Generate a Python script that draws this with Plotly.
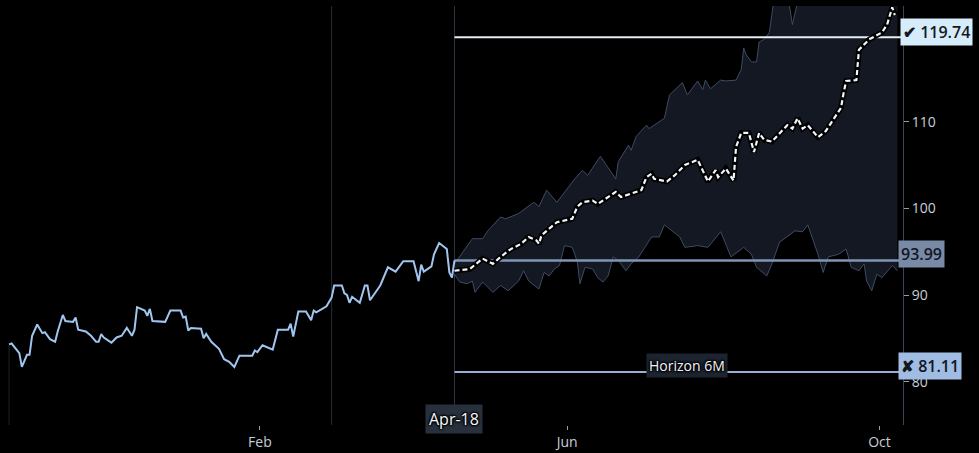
import pandas as pd
import plotly.graph_objects as go

# ---------------- data ----------------
hist_start = "2022-10-26"
hist_days = [0, 1, 4, 5, 7, 8, 9, 11, 13, 14, 16, 18, 19, 21, 22, 25, 26, 27, 30, 32,
             34, 35, 36, 37, 40, 42, 44, 46, 48, 49, 50, 53, 54, 55, 56, 61, 63, 67, 68, 69,
             70, 71, 75, 76, 77, 79, 82, 84, 86, 88, 90, 95, 96, 97, 99, 103, 105, 109, 110, 111,
             113, 116, 118, 119, 120, 124, 126, 127, 130, 131, 132, 133, 134, 137, 139, 140, 141, 145, 148, 151,
             154, 158, 160, 161, 162, 165, 166, 168, 171, 172, 173, 174]
hist_vals = [84.3, 84.4, 83.3, 81.7, 83.1, 83.1, 85.3, 86.6, 85.6, 85.7, 84.9, 84.6, 85.8, 87.7, 87.0, 86.9, 87.4, 86.0, 85.8, 85.3,
             84.6, 84.6, 85.5, 85.1, 84.5, 85.1, 85.3, 86.2, 85.3, 86.0, 88.6, 88.2, 87.6, 88.4, 87.0, 86.9, 88.2, 88.2, 87.4, 87.5,
             85.9, 86.2, 86.1, 85.0, 85.5, 84.6, 83.8, 82.6, 82.3, 81.7, 83.0, 83.0, 83.6, 83.4, 84.2, 83.7, 86.0, 86.0, 86.7, 85.2,
             88.1, 88.1, 87.1, 88.2, 88.0, 88.7, 89.7, 91.1, 91.1, 90.2, 90.0, 89.1, 89.8, 89.1, 91.1, 91.1, 89.4, 91.1, 93.2, 92.7,
             93.9, 93.9, 91.6, 93.5, 92.7, 93.3, 94.7, 96.0, 95.3, 92.6, 92.0, 93.99]

anchor_date = "2023-04-18"
mid_days = [0, 6, 11, 15, 18, 22, 26, 29, 32, 33, 34, 40, 46, 48, 50, 54, 56, 59, 63, 65,
            71, 73, 75, 77, 78, 83, 86, 90, 95, 97, 99, 102, 103, 106, 109, 110, 112, 115, 117, 119,
            121, 124, 127, 130, 132, 134, 136, 138, 142, 145, 147, 151, 152, 153, 157, 158, 162, 167, 169, 171, 172]
mid_vals = [92.8, 93.0, 94.2, 93.6, 94.4, 95.3, 95.9, 96.7, 96.3, 95.9, 96.9, 98.4, 98.8, 100.2, 100.7, 100.9, 100.5, 101.1, 101.9, 101.3,
            101.9, 102.1, 103.6, 104.0, 103.4, 103.1, 103.8, 105.0, 105.6, 104.4, 103.1, 104.4, 103.6, 104.6, 103.2, 107.1, 108.7, 108.7, 106.5, 108.7,
            107.9, 107.7, 108.7, 109.6, 109.2, 110.4, 109.2, 109.6, 108.2, 108.9, 109.8, 111.6, 113.3, 114.7, 114.8, 118.3, 119.5, 120.3, 121.2, 123.2, 122.3]

upper_days = [0, 4, 7, 11, 13, 18, 20, 25, 31, 33, 36, 40, 43, 47, 50, 52, 57, 63, 64, 68,
              69, 71, 75, 76, 82, 84, 89, 91, 95, 97, 98, 100, 104, 106, 110, 112, 113, 114, 116, 118,
              119, 121, 123, 125, 130, 132, 134, 138, 150, 173]
upper_vals = [93.6, 95.3, 96.5, 96.5, 97.4, 99.0, 98.8, 99.4, 100.7, 100.2, 102.1, 100.7, 101.9, 103.4, 104.4, 103.8, 106.0, 103.4, 105.4, 107.3,
              106.7, 108.3, 109.6, 109.2, 110.4, 113.1, 114.5, 113.1, 114.7, 113.7, 114.8, 113.8, 114.8, 114.7, 114.8, 116.0, 118.5, 117.7, 116.9, 116.9,
              119.2, 119.5, 120.3, 124.5, 125.0, 121.2, 123.8, 126.0, 127.0, 128.0]

lower_days = [0, 2, 5, 7, 8, 11, 13, 15, 18, 21, 25, 27, 29, 31, 33, 35, 37, 39, 41, 43,
              46, 48, 49, 51, 54, 56, 58, 60, 62, 64, 67, 69, 72, 77, 80, 82, 88, 90, 95, 99,
              104, 108, 113, 116, 118, 122, 124, 127, 131, 133, 136, 138, 142, 144, 146, 150, 153, 155, 158, 160,
              161, 163, 165, 167, 171, 173]
lower_vals = [92.4, 91.5, 91.3, 91.6, 90.3, 91.5, 90.9, 90.3, 91.1, 90.5, 91.6, 92.8, 91.6, 91.1, 90.7, 92.6, 92.2, 93.0, 93.4, 95.7,
              95.5, 93.8, 91.3, 93.2, 93.0, 92.0, 91.5, 92.2, 94.4, 94.0, 92.8, 93.6, 94.4, 96.7, 96.7, 98.1, 96.7, 95.5, 95.7, 95.5,
              97.3, 94.4, 95.5, 94.7, 93.2, 92.2, 93.6, 96.1, 96.9, 97.4, 97.3, 98.1, 94.7, 92.6, 94.4, 94.7, 95.3, 93.2, 92.8, 93.6,
              91.6, 90.5, 92.4, 92.0, 93.4, 92.8]

target_up = 119.74
current = 93.99
target_down = 81.11
x_tick_labels = ["Feb", "Jun", "Oct"]
y_ticks = [80, 90, 100, 110]

# ---------------- helpers ----------------
def to_dates(start, days):
    return list(pd.Timestamp(start) + pd.to_timedelta(days, unit="D"))

hist_x = to_dates(hist_start, hist_days)
mid_x = to_dates(anchor_date, mid_days)
up_x = to_dates(anchor_date, upper_days)
lo_x = to_dates(anchor_date, lower_days)

x_range = ["2022-10-22 11:00", "2023-10-10 05:00"]
y_range = [75, 123.35]
end_x = pd.Timestamp(x_range[1])
anchor = pd.Timestamp(anchor_date)

FONT = "Open Sans"
shadow = "1px 1px 2px #000, -1px -1px 2px #000, 1px -1px 2px #000, -1px 1px 2px #000"

fig = go.Figure()

# band
fig.add_trace(go.Scatter(x=up_x + lo_x[::-1], y=upper_vals + lower_vals[::-1],
                         fill="toself", fillcolor="rgb(19,24,34)", mode="none",
                         hoverinfo="skip", showlegend=False))
for xs, ys in [(up_x, upper_vals), (lo_x, lower_vals)]:
    fig.add_trace(go.Scatter(x=xs, y=ys, mode="lines",
                             line=dict(color="rgb(62,76,98)", width=1),
                             hoverinfo="skip", showlegend=False))

# horizontal levels
for lvl, col, w in [(target_up, "rgb(228,238,244)", 2),
                    (current, "rgb(128,148,180)", 2.5),
                    (target_down, "rgb(150,176,216)", 2)]:
    fig.add_trace(go.Scatter(x=[anchor, end_x], y=[lvl, lvl], mode="lines",
                             line=dict(color=col, width=w), hoverinfo="skip", showlegend=False))

# history
fig.add_trace(go.Scatter(x=hist_x, y=hist_vals, mode="lines",
                         line=dict(color="rgb(160,198,240)", width=2),
                         showlegend=False))

# forecast median dashed with halo
fig.add_trace(go.Scatter(x=mid_x, y=mid_vals, mode="lines",
                         line=dict(color="rgb(0,0,0)", width=5.5),
                         hoverinfo="skip", showlegend=False))
fig.add_trace(go.Scatter(x=mid_x, y=mid_vals, mode="lines",
                         line=dict(color="rgb(240,246,250)", width=2.2, dash="5px,3px"),
                         showlegend=False))

# vertical markers
shapes = [
    dict(type="line", xref="x", yref="paper", x0="2023-03-01", x1="2023-03-01", y0=0, y1=1,
         line=dict(color="rgb(38,43,52)", width=1), layer="below"),
    dict(type="line", xref="x", yref="paper", x0=anchor_date, x1=anchor_date, y0=0, y1=1,
         line=dict(color="rgb(44,52,66)", width=1), layer="below"),
    dict(type="line", xref="x", yref="y", x0=hist_x[0], x1=hist_x[0], y0=y_range[0], y1=hist_vals[0],
         line=dict(color="rgb(30,34,42)", width=1), layer="below"),
]

annotations = [
    dict(xref="paper", yref="y", x=0.997, y=target_up, yshift=5, xanchor="left", yanchor="middle",
         text="✔ 119.74", showarrow=False, bgcolor="rgb(214,236,250)", borderpad=2,
         font=dict(family=FONT, size=16, color="rgb(20,24,30)", weight=600)),
    dict(xref="paper", yref="y", x=0.9945, y=current, yshift=6, xanchor="left", yanchor="middle",
         text="93.99", showarrow=False, bgcolor="rgb(120,138,166)", borderpad=2,
         font=dict(family=FONT, size=16, color="rgb(18,22,30)", weight=600)),
    dict(xref="paper", yref="y", x=0.9945, y=target_down, yshift=6, xanchor="left", yanchor="middle",
         text="✘ 81.11", showarrow=False, bgcolor="rgb(160,188,226)", borderpad=2,
         font=dict(family=FONT, size=16, color="rgb(18,22,30)", weight=600)),
    dict(xref="x", yref="y", x="2023-07-18", y=target_down, yshift=7, xanchor="center", yanchor="middle",
         text="Horizon 6M", showarrow=False, bgcolor="rgb(28,36,48)", borderpad=2,
         font=dict(family=FONT, size=14, color="rgb(240,244,248)", shadow=shadow)),
    dict(xref="x", yref="paper", x=anchor_date, y=0.015, xanchor="center", yanchor="middle",
         text="Apr-18", showarrow=False, bgcolor="rgb(40,48,62)", borderpad=3,
         font=dict(family=FONT, size=16, color="rgb(245,248,250)", shadow=shadow)),
]

fig.update_layout(
    width=979, height=453,
    margin=dict(l=0, r=76, t=6, b=28),
    paper_bgcolor="#000000", plot_bgcolor="#000000",
    showlegend=False,
    shapes=shapes, annotations=annotations,
    xaxis=dict(type="date", range=x_range, tickvals=["2023-02-01", "2023-06-01", "2023-10-01"],
               ticktext=x_tick_labels, ticks="outside", ticklen=4, tickcolor="rgb(150,158,170)",
               showgrid=False, zeroline=False, showline=False,
               tickfont=dict(family=FONT, size=14, color="rgb(200,206,216)", shadow=shadow)),
    yaxis=dict(side="right", range=y_range, tickvals=y_ticks, ticks="outside", ticklen=5,
               tickcolor="rgb(150,158,170)", showgrid=False, zeroline=False,
               showline=True, linecolor="rgb(58,68,84)", linewidth=1,
               tickfont=dict(family=FONT, size=14, color="rgb(200,206,216)")),
)

fig.write_html("out.html",
               config={"displayModeBar": False},
               post_script="document.body.style.margin='0';document.body.style.overflow='hidden';"
                           "document.documentElement.style.background='#000';")
